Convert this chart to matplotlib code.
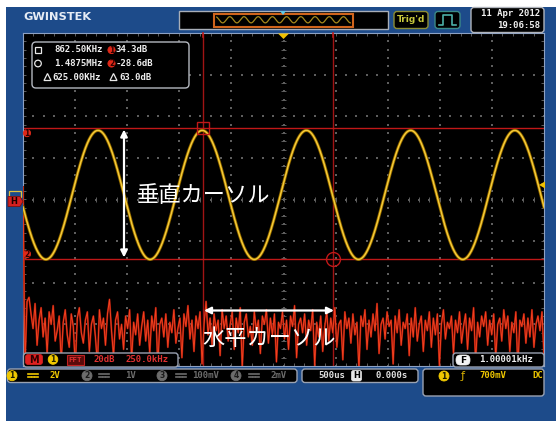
import numpy as np
import matplotlib
matplotlib.use('Agg')
import matplotlib.pyplot as plt
from matplotlib.patches import FancyBboxPatch, Rectangle, Circle, Polygon
from matplotlib.collections import LineCollection

# ---------------- data ----------------
time_per_div_us = 500.0
volts_per_div = 2.0
sig_freq_khz = 1.00001
sig_amp_v = 3.1
sig_offset_v = 0.22
sig_peak_time_us = -1780.0
trig_level_v = 0.7

fft_khz_per_div = 250.0
fft_db_per_div = 20.0
fft_db = [6, -80, -49, -47, -55, -62, -50, -70, -58, -52, -66, -57, -74, -54, -60, -51, -68, -63, -56, -78,
          -59, -53, -65, -71, -55, -61, -80, -57, -52, -64, -69, -58, -54, -73, -60, -56, -66, -79, -53, -62,
          -57, -70, -55, -48, -63, -75, -58, -54, -67, -60, -72, -56, -62, -53, -77, -59, -65, -55, -70, -61,
          -54, -68, -58, -74, -56, -63, -52, -80, -60, -57, -66, -55, -71, -59, -64, -53, -69, -62, -57, -76,
          -55, -61, -51, -67, -58, -73, -56, -62, -54, -79, -60, -49, -65, -57, -70, -55, -63, -58, -75, -53,
          -62, -56, -68, -60, -54, -72, -57, -64, -52, -81, -59, -55, -66, -61, -70, -54, -63, -58, -74, -56,
          -60, -53, -69, -57, -65, -55, -78, -59, -62, -54, -67, -58, -72, -56, -61, -51, -76, -60, -57, -64,
          -55, -70, -58, -63, -53, -80, -59, -66, -56, -73, -61, -54, -68, -57, -64, -52, -71, -60, -58, -77,
          -54, -62, -57, -69, -55, -65, -59, -82, -56, -61, -53, -72, -58, -66, -55, -63, -50, -74, -60, -57,
          -67, -54, -61, -58, -79, -56, -64, -53, -70, -59, -62, -55, -75, -57, -66, -52, -68, -60, -56, -73,
          -58, -63, -54, -71, -57, -65, -55, -80, -60, -53, -67, -59, -62, -56, -74, -58, -64, -54, -69, -61,
          -55, -72, -57, -63, -52, -78, -59, -66, -56, -61, -54, -70, -58, -65, -55, -76, -60, -57, -68, -53,
          -62, -56, -73, -59, -64, -54, -81, -58, -61, -55, -69, -57, -66, -53, -71, -60, -56, -63, -54, -75]

cursor_freq_khz = [862.5, 1487.5]
cursor_level_db = [34.3, -28.6]

meas_lines = [("862.50KHz", "34.3dB"), ("1.4875MHz", "-28.6dB"), ("625.00KHz", "63.0dB")]
date_text = "11 Apr 2012"
time_text = "19:06:58"
chan_scales = ["2V", "1V", "100mV", "2mV"]
label_v = "垂直カーソル"
label_h = "水平カーソル"

# ---------------- figure ----------------
W, H = 556, 421
fig = plt.figure(figsize=(W / 100, H / 100), dpi=100)
fig.patch.set_facecolor('white')

def px_axes(x0, y0, x1, y1, zorder=0):
    ax = fig.add_axes([x0 / W, 1 - y1 / H, (x1 - x0) / W, (y1 - y0) / H])
    ax.set_zorder(zorder)
    return ax

bg = px_axes(0, 0, W, H, 0)
bg.set_xlim(0, W); bg.set_ylim(H, 0); bg.axis('off')
bg.add_patch(Rectangle((6, 7), W + 20, H + 20, color='#1d4b8a', lw=0, clip_on=False))

# screen axes
SX0, SY0, SX1, SY1 = 23, 33, 544, 366
scr = px_axes(SX0, SY0, SX1, SY1, 1)
scr.set_facecolor('black')
scr.set_xlim(0, 10); scr.set_ylim(-4, 4)
scr.set_xticks([]); scr.set_yticks([])
for s in scr.spines.values():
    s.set_color('#8da2c4'); s.set_linewidth(0.8)

# grid dots
gx, gy = [], []
for k in range(1, 10):
    for j in np.arange(-4, 4.001, 0.2):
        gx.append(k); gy.append(j)
for k in range(-3, 4):
    for j in np.arange(0, 10.001, 0.2):
        gx.append(j); gy.append(k)
scr.scatter(gx, gy, s=1.0, marker='s', color='#5e5e5e', lw=0, zorder=1)
segs = []
for j in np.arange(-4, 4.001, 0.2):
    segs.append([(4.96, j), (5.04, j)])
    segs.append([(0, j), (0.06, j)])
    segs.append([(9.94, j), (10, j)])
for j in np.arange(0, 10.001, 0.2):
    segs.append([(j, -0.05), (j, 0.05)])
    segs.append([(j, 3.93), (j, 4)])
    segs.append([(j, -4), (j, -3.93)])
scr.add_collection(LineCollection(segs, colors='#5e5e5e', linewidths=0.7, zorder=1))

# cursors
cx = [f / fft_khz_per_div for f in cursor_freq_khz]
cy = [d / fft_db_per_div for d in cursor_level_db]
for x in cx:
    scr.axvline(x, color='#a01414', lw=1.0, zorder=2)
for y in cy:
    scr.axhline(y, color='#c01818', lw=1.0, zorder=2)

# FFT trace
fx = np.arange(len(fft_db)) * 10.0 / (len(fft_db) - 1)
fy = np.array(fft_db) / fft_db_per_div
scr.plot(fx, fy, color='#8c1208', lw=1.4, zorder=3)
scr.plot(fx, fy, color='#f2401e', lw=0.7, zorder=3)

# sine trace
t = np.linspace(-2500, 2500, 3000)
v = sig_offset_v + sig_amp_v * np.cos(2 * np.pi * sig_freq_khz / 1000.0 * (t - sig_peak_time_us))
sx = t / time_per_div_us + 5
sy = v / volts_per_div
scr.plot(sx, sy, color='#7a5800', lw=2.3, zorder=4)
scr.plot(sx, sy, color='#e3ae08', lw=1.3, zorder=4)
scr.plot(sx, sy, color='#f7d560', lw=0.5, zorder=4)

# cursor markers
scr.plot([cx[0]], [cy[0]], marker='s', ms=9, mfc='none', mec='#c01818', mew=1.0, zorder=5)
scr.plot([cx[1]], [cy[1]], marker='o', ms=10, mfc='none', mec='#c01818', mew=1.0, zorder=5)

# ---------------- foreground ----------------
fg = px_axes(0, 0, W, H, 2)
fg.set_xlim(0, W); fg.set_ylim(H, 0); fg.axis('off')
fg.patch.set_alpha(0)

mono = dict(family='DejaVu Sans Mono', fontweight='bold', fontsize=6.5)

def rbox(x0, y0, x1, y1, ec='#9aa2b2', fc='black', r=3, lw=1.0):
    fg.add_patch(FancyBboxPatch((x0, y0), x1 - x0, y1 - y0,
                                boxstyle=f"round,pad=0,rounding_size={r}",
                                fc=fc, ec=ec, lw=lw))

def badge(x, y, txt, fc, tc, r=4.8, ec=None):
    fg.add_patch(Circle((x, y), r, fc=fc, ec=ec if ec else fc, lw=0.6))
    fg.text(x, y + 0.3, txt, color=tc, ha='center', va='center',
            family='DejaVu Sans', fontweight='bold', fontsize=5.5)

def dc_symbol(x, y, col):
    fg.plot([x - 5, x + 5], [y - 1.5, y - 1.5], color=col, lw=1.2)
    fg.plot([x - 5, x - 2], [y + 1.5, y + 1.5], color=col, lw=1.2)
    fg.plot([x - 1, x + 1], [y + 1.5, y + 1.5], color=col, lw=1.2)
    fg.plot([x + 2, x + 5], [y + 1.5, y + 1.5], color=col, lw=1.2)

# logo
fg.text(23, 17.5, "GWINSTEK", color='#e6ecf5', ha='left', va='center',
        family='DejaVu Sans', fontweight='heavy', fontsize=8.2)

# overview window
fg.add_patch(Rectangle((179, 11), 209, 18, fc='black', ec='#a8aeb8', lw=1.0))
fg.add_patch(Rectangle((214, 13.5), 139, 13, fc='none', ec='#d0641c', lw=1.5))
ov = px_axes(216, 14, 351, 26, 3)
ov.axis('off'); ov.patch.set_alpha(0)
to = np.linspace(-4700, 4700, 2000)
vo = sig_offset_v + sig_amp_v * np.cos(2 * np.pi * sig_freq_khz / 1000.0 * (to - sig_peak_time_us))
ov.plot(to, vo, color='#a88a1c', lw=0.9)
ov.set_xlim(-4750, 4750); ov.set_ylim(-6, 6)
fg.add_patch(Polygon([(280, 11), (286, 11), (283, 15)], color='#5ec8e8', lw=0))

# Trig'd box and icon
rbox(394, 11.5, 428, 28.5, ec='#8c8c34', r=3)
fg.text(411, 20, "Trig'd", color='#c8c83c', ha='center', va='center',
        family='DejaVu Sans', fontweight='bold', fontsize=6.5)
rbox(435, 11.5, 460, 28.5, ec='#3a8a88', r=3)
fg.plot([439, 443, 443, 452, 452, 456], [25, 25, 15, 15, 25, 25], color='#4cb0a8', lw=1.2)

# date box
rbox(471, 7.5, 544, 32.5, ec='#b0b4bc', r=3)
fg.text(540, 14, date_text, color='#f0f0f0', ha='right', va='center', **mono)
fg.text(540, 26, time_text, color='#f0f0f0', ha='right', va='center', **mono)

# top markers on screen
fg.add_patch(Polygon([(278, 33.5), (289, 33.5), (283.5, 39)], color='#f0c000', lw=0))
for x in cx:
    xp = SX0 + x / 10 * (SX1 - SX0)
    fg.plot([xp, xp], [33, 37], color='#c01818', lw=1.2)

# trigger level marker right
ty = SY0 + (4 - trig_level_v / volts_per_div) / 8 * (SY1 - SY0)
fg.add_patch(Polygon([(545, ty - 3.5), (545, ty + 3.5), (539, ty)], color='#f0c000', lw=0))

# left cursor tags
for y, lab in zip(cy, ["1", "2"]):
    yp = SY0 + (4 - y) / 8 * (SY1 - SY0)
    off = 5 if lab == "1" else -5
    badge(27, yp + off, lab, '#e02818', '#300000', r=3.6)

# H marker on left
fg.add_patch(Rectangle((8.5, 190.5), 12, 6, fc='none', ec='#e0c040', lw=0.9))
fg.add_patch(Polygon([(8, 196.5), (20, 196.5), (23, 201.5), (20, 206.5), (8, 206.5)],
                     fc='#d42020', ec='#7a1010', lw=0.6))
fg.text(14, 201.8, "H", color='#1a0000', ha='center', va='center',
        family='DejaVu Sans', fontweight='bold', fontsize=6)

# measurement box
rbox(32, 42, 189, 88, ec='#b4b8c0', r=4)
rows_y = [50, 63.5, 77]
fg.add_patch(Rectangle((34.5, 47), 6, 6, fc='none', ec='#e8e8e8', lw=0.9))
fg.add_patch(Circle((38, 63.5), 3.3, fc='none', ec='#e8e8e8', lw=0.9))
fg.add_patch(Polygon([(44, 80.5), (51, 80.5), (47.5, 73.5)], fc='none', ec='#e8e8e8', lw=0.9))
fg.add_patch(Polygon([(110, 80.5), (117, 80.5), (113.5, 73.5)], fc='none', ec='#e8e8e8', lw=0.9))
fg.text(54, rows_y[0], meas_lines[0][0], color='#eeeeee', ha='left', va='center', **mono)
fg.text(54, rows_y[1], meas_lines[1][0], color='#eeeeee', ha='left', va='center', **mono)
fg.text(52, rows_y[2], meas_lines[2][0], color='#eeeeee', ha='left', va='center', **mono)
badge(111.5, rows_y[0], "1", '#e02818', '#300000', r=3.6)
badge(111.5, rows_y[1], "2", '#e02818', '#300000', r=3.6)
fg.text(115.5, rows_y[0], meas_lines[0][1], color='#eeeeee', ha='left', va='center', **mono)
fg.text(115.5, rows_y[1], meas_lines[1][1], color='#eeeeee', ha='left', va='center', **mono)
fg.text(119, rows_y[2], meas_lines[2][1], color='#eeeeee', ha='left', va='center', **mono)

# Japanese annotations and arrows
jp = dict(family=['Noto Sans CJK JP', 'DejaVu Sans'], fontsize=16, color='white')
fg.text(137, 196, label_v, ha='left', va='center', **jp)
fg.text(202, 338, label_h, ha='left', va='center', **jp)
fg.annotate('', xy=(124, 129.5), xytext=(124, 257.5),
            arrowprops=dict(arrowstyle='<|-|>', color='white', lw=1.6, mutation_scale=10,
                            shrinkA=0, shrinkB=0))
fg.annotate('', xy=(204, 310.5), xytext=(334, 310.5),
            arrowprops=dict(arrowstyle='<|-|>', color='white', lw=1.6, mutation_scale=10,
                            shrinkA=0, shrinkB=0))

# math bar inside screen
rbox(23.5, 353, 178, 367, ec='#9aa2b2', r=3)
fg.add_patch(FancyBboxPatch((25.5, 354.5), 17, 10, boxstyle="round,pad=0,rounding_size=2.5",
                            fc='#e02020', ec='#e02020', lw=0.5))
fg.text(34, 359.8, "M", color='#300000', ha='center', va='center',
        family='DejaVu Sans', fontweight='bold', fontsize=7)
badge(53, 359.5, "1", '#f0c800', '#202000', r=4.8)
fg.add_patch(Rectangle((66.5, 354.5), 17, 10, fc='#5a0a0a', ec='#c02020', lw=0.8))
fg.text(75, 359.8, "FFT", color='#e03030', ha='center', va='center',
        family='DejaVu Sans Mono', fontweight='bold', fontsize=5.3)
fg.text(94, 359.8, "20dB", color='#e03030', ha='left', va='center', **mono)
fg.text(125, 359.8, "250.0kHz", color='#e03030', ha='left', va='center', **mono)

# frequency counter box
rbox(453, 353, 544, 367, ec='#9aa2b2', r=3)
fg.add_patch(FancyBboxPatch((456, 355), 14, 10, boxstyle="round,pad=0,rounding_size=4.5",
                            fc='#f4f4f4', ec='#f4f4f4', lw=0.5))
fg.text(463, 360.2, "F", color='black', ha='center', va='center',
        family='DejaVu Sans', fontweight='bold', fontsize=6.5)
fg.text(506, 360, "1.00001kHz", color='#eeeeee', ha='center', va='center', **mono)

# channel status bar
rbox(7.5, 369, 297, 382.5, ec='#9aa2b2', r=3)
ch_x = [12, 87, 162, 236]
ch_dc = [33, 104, 181, 254]
ch_lab = [55, 130, 206, 279]
for i in range(4):
    on = (i == 0)
    col = '#f0c800' if on else '#6c6c6c'
    badge(ch_x[i], 375.7, str(i + 1), col, '#1a1a00' if on else '#1a1a1a', r=5)
    dc_symbol(ch_dc[i], 375.7, col)
    fg.text(ch_lab[i], 376, chan_scales[i], color=col, ha='center', va='center', **mono)

# timebase box
rbox(302, 369, 418, 382.5, ec='#9aa2b2', r=3)
fg.text(332, 376, "500us", color='#e0e0e0', ha='center', va='center', **mono)
fg.add_patch(FancyBboxPatch((351.5, 370.5), 10, 10.5, boxstyle="round,pad=0,rounding_size=2",
                            fc='#e8e8e8', ec='#e8e8e8', lw=0.5))
fg.text(356.5, 376, "H", color='black', ha='center', va='center',
        family='DejaVu Sans', fontweight='bold', fontsize=6)
fg.text(392, 376, "0.000s", color='#e0e0e0', ha='center', va='center', **mono)

# trigger box
rbox(423, 369, 544, 396, ec='#9aa2b2', r=3)
badge(444, 376, "1", '#f0c800', '#1a1a00', r=5)
fg.text(463, 376, "ƒ", color='#d8b000', ha='center', va='center',
        family='DejaVu Sans', fontsize=8)
fg.text(493, 376, "700mV", color='#f0c800', ha='center', va='center', **mono)
fg.text(543, 376, "DC", color='#f0c800', ha='right', va='center', **mono)

fig.savefig('out.png', dpi=100, facecolor='white')
